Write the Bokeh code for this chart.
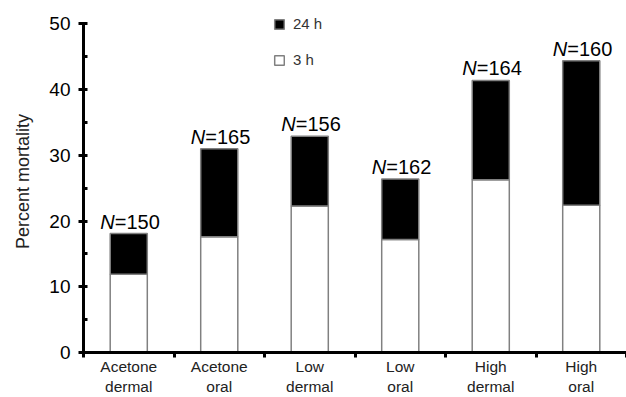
from bokeh.plotting import figure
from bokeh.models import (Range1d, LinearAxis, FixedTicker, SingleIntervalTicker,
                          Legend, LegendItem, ColumnDataSource)
from bokeh.core.properties import value
from bokeh.embed import file_html
from bokeh.resources import INLINE

categories = ["Acetone\ndermal", "Acetone\noral", "Low\ndermal", "Low\noral", "High\ndermal", "High\noral"]
mortality_3h = [11.9, 17.6, 22.3, 17.2, 26.3, 22.4]
mortality_24h = [18.1, 31.0, 32.9, 26.4, 41.4, 44.4]
n_values = [150, 165, 156, 162, 164, 160]

FONT = "Liberation Sans"

xs = [i + 0.5 for i in range(len(categories))]
src = ColumnDataSource(dict(
    x=xs, h3=mortality_3h, h24=mortality_24h,
    nlab=["N"] * len(n_values),
    rest=["=%d" % n for n in n_values],
))

p = figure(width=626, height=397, output_backend="svg", toolbar_location=None,
           x_range=Range1d(0, len(categories)), y_range=Range1d(0, 52.05),
           x_axis_type=None, y_axis_type=None,
           min_border_left=83, min_border_right=0, min_border_top=10, min_border_bottom=45)
p.outline_line_color = None
p.xgrid.visible = False
p.ygrid.visible = False

r3 = p.vbar(x="x", width=0.41, bottom=0, top="h3", source=src,
            fill_color="white", line_color="#808080", line_width=1.5)
r24 = p.vbar(x="x", width=0.41, bottom="h3", top="h24", source=src,
             fill_color="black", line_color="#808080", line_width=1.5)

p.text(x="x", y="h24", text="nlab", source=src, text_font=value(FONT),
       text_font_style="italic", text_font_size="20px", text_align="right",
       text_baseline="alphabetic", x_offset=-14, y_offset=-12, text_color="black")
p.text(x="x", y="h24", text="rest", source=src, text_font=value(FONT),
       text_font_size="20px", text_align="left",
       text_baseline="alphabetic", x_offset=-14, y_offset=-12, text_color="black")

# y axis
yax = LinearAxis(ticker=SingleIntervalTicker(interval=10, num_minor_ticks=2))
yax.bounds = (0, 50)
yax.axis_line_width = 3
yax.axis_line_color = "black"
yax.major_tick_line_width = 3
yax.major_tick_in = 3
yax.major_tick_out = 5
yax.minor_tick_line_width = 3
yax.minor_tick_in = 4
yax.minor_tick_out = 0
yax.major_label_text_font = FONT
yax.major_label_text_font_size = "19px"
yax.major_label_text_color = "black"
yax.major_label_standoff = 8
yax.axis_label = "Percent mortality"
yax.axis_label_text_font = FONT
yax.axis_label_text_font_size = "18px"
yax.axis_label_text_font_style = "normal"
yax.axis_label_text_color = "#222222"
yax.axis_label_standoff = 13
p.add_layout(yax, "left")

# x axis
xax = LinearAxis(ticker=FixedTicker(ticks=xs, minor_ticks=list(range(len(categories) + 1))))
xax.major_label_overrides = {x: c for x, c in zip(xs, categories)}
xax.axis_line_width = 3
xax.axis_line_color = "black"
xax.major_tick_line_color = None
xax.major_tick_in = 0
xax.major_tick_out = 0
xax.minor_tick_line_width = 3
xax.minor_tick_line_color = "black"
xax.minor_tick_in = 0
xax.minor_tick_out = 5
xax.major_label_text_font = FONT
xax.major_label_text_font_size = "15.5px"
xax.major_label_text_color = "#222222"
xax.major_label_standoff = 0
p.add_layout(xax, "below")

legend = Legend(items=[LegendItem(label="24 h", renderers=[r24]),
                       LegendItem(label="3 h", renderers=[r3])],
                location=(190, 284))
legend.padding = 0
legend.margin = 0
legend.border_line_color = None
legend.background_fill_alpha = 0
legend.glyph_width = 12
legend.glyph_height = 12
legend.label_height = 12
legend.spacing = 19
legend.label_standoff = 8
legend.label_text_font = FONT
legend.label_text_font_size = "15px"
legend.label_text_color = "#333333"
p.add_layout(legend, "center")

open("out.html", "w").write(file_html(p, INLINE))
